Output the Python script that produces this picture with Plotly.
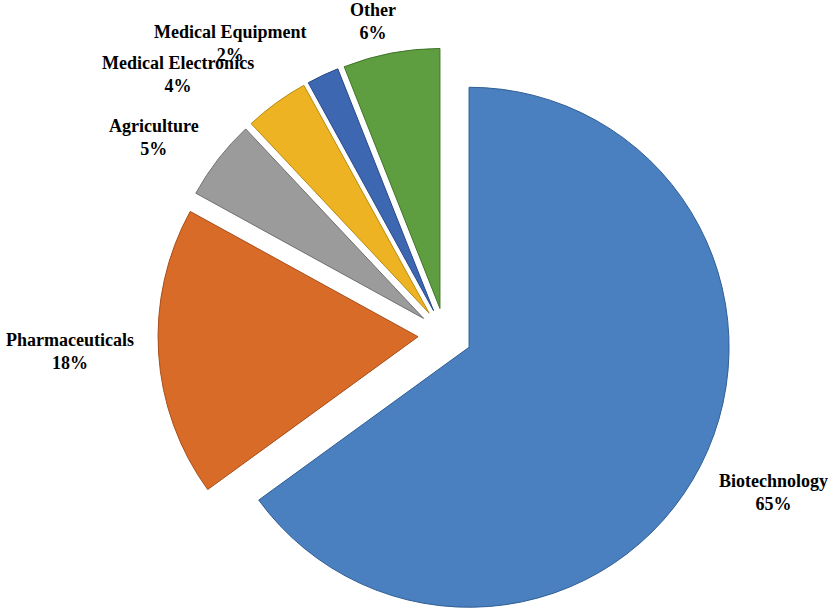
import math
import plotly.graph_objects as go

# Market share by application segment
segments = ["Biotechnology", "Pharmaceuticals", "Agriculture",
            "Medical Electronics", "Medical Equipment", "Other"]
shares = [65, 18, 5, 4, 2, 6]
colors = ["#4A80BF", "#D86B28", "#9B9B9B", "#EEB322", "#3D67B1", "#5E9E40"]
edge_colors = ["#2F5E94", "#A84E1A", "#707070", "#B88A10", "#28488A", "#3F7429"]

# label positions in pixels (x, y from top) on the 828x613 canvas
label_px = [(773, 492), (70, 352), (154, 137), (178, 75), (230, 44), (373, 21)]

W, H = 828, 613
R = 260               # pie radius, px
CX, CY = 445, 335     # pie centre before explosion, px
EXPLODE = 27          # distance each slice is pushed out, px

fig = go.Figure()

# Excel-style exploded pie: one pie trace per slice, each shifted outward
# along its own mid-angle (plotly's "pull" would shrink the whole pie)
total = sum(shares)
start = 0.0
for i, name in enumerate(segments):
    frac = shares[i] / total
    mid = (start + frac / 2) * 2 * math.pi  # clockwise from 12 o'clock
    start += frac
    cx = CX + EXPLODE * math.sin(mid)
    cy = CY - EXPLODE * math.cos(mid)
    slice_colors = ["rgba(0,0,0,0)"] * len(shares)
    slice_colors[i] = colors[i]
    line_colors = ["rgba(0,0,0,0)"] * len(shares)
    line_colors[i] = edge_colors[i]
    fig.add_trace(go.Pie(
        labels=segments,
        values=shares,
        sort=False,
        direction="clockwise",
        rotation=0,
        marker=dict(colors=slice_colors, line=dict(color=line_colors, width=1)),
        textinfo="none",
        hoverinfo="label+percent",
        domain=dict(x=[(cx - R) / W, (cx + R) / W],
                    y=[(H - cy - R) / H, (H - cy + R) / H]),
        showlegend=False,
    ))

# Outside category labels with percentages
for name, val, (px_x, px_y) in zip(segments, shares, label_px):
    fig.add_annotation(
        x=px_x / W, y=1 - px_y / H, xref="paper", yref="paper",
        text=f"{name}<br>{val}%", showarrow=False,
        xanchor="center", yanchor="middle",
        font=dict(family="Liberation Serif, Times New Roman, serif",
                  size=18, color="black", weight="bold"),
    )

fig.update_layout(
    width=W, height=H,
    margin=dict(l=0, r=0, t=0, b=0),
    paper_bgcolor="white",
    plot_bgcolor="white",
)

# drop the default page margin so the figure fills the window exactly
fig.write_html("out.html", config={"displayModeBar": False},
               post_script="document.body.style.margin='0';")
